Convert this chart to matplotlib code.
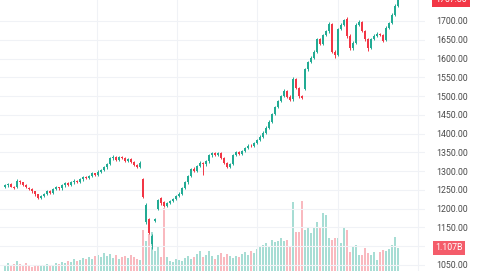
import matplotlib
matplotlib.use("Agg")
import matplotlib.pyplot as plt
import matplotlib.transforms as mtransforms

opens = [1258, 1262, 1266, 1259, 1258, 1275, 1270, 1264, 1255, 1252, 1246, 1238, 1228, 1233, 1240, 1246,
         1243, 1252, 1257, 1254, 1262, 1268, 1264, 1270, 1275, 1272, 1278, 1284, 1281, 1288, 1294, 1291,
         1299, 1304, 1310, 1320, 1334, 1339, 1331, 1337, 1335, 1327, 1333, 1325, 1316, 1312, 1278, 1165,
         1172, 1105, 1168, 1200, 1228, 1218, 1208, 1215, 1220, 1226, 1233, 1240, 1256, 1270, 1287, 1305,
         1300, 1314, 1322, 1318, 1326, 1342, 1348, 1344, 1349, 1335, 1322, 1312, 1320, 1344, 1350, 1347,
         1354, 1362, 1368, 1366, 1374, 1383, 1392, 1402, 1416, 1432, 1452, 1470, 1486, 1500, 1514, 1498,
         1492, 1545, 1522, 1500, 1520, 1572, 1590, 1602, 1618, 1652, 1640, 1662, 1672, 1692, 1618, 1610,
         1678, 1690, 1706, 1660, 1628, 1642, 1690, 1698, 1674, 1652, 1628, 1652, 1660, 1666, 1662, 1650,
         1682, 1694, 1716, 1740]
closes = [1262, 1266, 1259, 1256, 1275, 1270, 1264, 1257, 1252, 1246, 1238, 1229, 1233, 1240, 1246, 1243,
          1252, 1257, 1254, 1262, 1268, 1264, 1270, 1275, 1272, 1278, 1284, 1281, 1288, 1294, 1291, 1299,
          1304, 1310, 1320, 1334, 1339, 1331, 1337, 1335, 1327, 1333, 1325, 1316, 1312, 1323, 1232, 1210,
          1136, 1128, 1172, 1222, 1214, 1208, 1215, 1220, 1226, 1233, 1240, 1256, 1270, 1287, 1305, 1300,
          1314, 1322, 1318, 1326, 1342, 1348, 1344, 1349, 1335, 1322, 1312, 1320, 1344, 1350, 1347, 1354,
          1362, 1368, 1366, 1374, 1383, 1392, 1402, 1416, 1432, 1452, 1470, 1486, 1500, 1514, 1498, 1490,
          1545, 1522, 1500, 1496, 1572, 1590, 1602, 1618, 1652, 1640, 1662, 1672, 1692, 1618, 1610, 1678,
          1690, 1702, 1660, 1628, 1642, 1690, 1698, 1674, 1652, 1628, 1652, 1660, 1666, 1662, 1648, 1682,
          1694, 1716, 1740, 1757.8]
highs = [1265, 1269, 1268, 1261, 1278, 1277, 1272, 1266, 1257, 1254, 1248, 1240, 1236, 1243, 1249, 1249,
         1255, 1260, 1259, 1265, 1271, 1270, 1273, 1278, 1277, 1281, 1287, 1286, 1291, 1297, 1296, 1302,
         1307, 1313, 1323, 1337, 1343, 1341, 1340, 1340, 1337, 1336, 1335, 1327, 1319, 1326, 1281, 1214,
         1176, 1133, 1176, 1226, 1231, 1221, 1218, 1223, 1229, 1236, 1244, 1259, 1273, 1290, 1309, 1310,
         1317, 1326, 1325, 1329, 1345, 1352, 1351, 1352, 1351, 1338, 1324, 1323, 1347, 1354, 1353, 1357,
         1365, 1371, 1371, 1377, 1386, 1395, 1406, 1420, 1436, 1456, 1474, 1490, 1504, 1518, 1517, 1502,
         1550, 1548, 1525, 1504, 1576, 1594, 1606, 1622, 1656, 1655, 1666, 1676, 1697, 1695, 1622, 1682,
         1694, 1706, 1710, 1664, 1646, 1694, 1702, 1701, 1677, 1655, 1656, 1664, 1670, 1669, 1665, 1686,
         1698, 1720, 1745, 1762]
lows = [1255, 1259, 1257, 1253, 1256, 1267, 1261, 1254, 1249, 1243, 1235, 1225, 1225, 1230, 1237, 1240,
        1240, 1249, 1251, 1251, 1259, 1261, 1261, 1267, 1269, 1269, 1275, 1278, 1278, 1285, 1288, 1288,
        1296, 1301, 1307, 1317, 1331, 1328, 1328, 1332, 1324, 1324, 1322, 1313, 1308, 1309, 1229, 1160,
        1132, 1092, 1164, 1197, 1211, 1204, 1205, 1212, 1217, 1223, 1230, 1237, 1253, 1267, 1284, 1297,
        1297, 1311, 1290, 1315, 1323, 1339, 1341, 1341, 1332, 1319, 1308, 1309, 1317, 1341, 1344, 1344,
        1351, 1359, 1363, 1363, 1371, 1380, 1389, 1399, 1413, 1429, 1449, 1467, 1483, 1497, 1495, 1486,
        1488, 1519, 1496, 1492, 1515, 1568, 1587, 1599, 1615, 1636, 1637, 1659, 1669, 1614, 1602, 1606,
        1675, 1687, 1656, 1622, 1624, 1639, 1687, 1671, 1648, 1620, 1625, 1649, 1657, 1659, 1644, 1647,
        1679, 1691, 1713, 1738]
volumes_b = [0.29, 0.38, 0.24, 0.34, 0.48, 0.34, 0.29, 0.38, 0.24, 0.19, 0.29, 0.24, 0.29, 0.24, 0.34, 0.29,
             0.24, 0.38, 0.34, 0.43, 0.38, 0.48, 0.43, 0.58, 0.48, 0.53, 0.62, 0.58, 0.67, 0.58, 0.72, 0.77,
             0.67, 0.86, 0.72, 0.82, 0.62, 0.77, 0.58, 0.67, 0.72, 0.62, 0.77, 0.67, 0.58, 0.53, 1.97, 1.44,
             1.78, 1.87, 0.96, 1.20, 0.67, 3.02, 0.67, 0.48, 0.43, 0.58, 0.53, 0.48, 0.62, 0.72, 0.58, 0.67,
             0.82, 0.96, 0.67, 0.77, 0.96, 0.72, 0.58, 0.77, 0.86, 0.67, 0.82, 0.72, 0.62, 0.72, 0.67, 0.82,
             0.91, 0.77, 0.96, 0.86, 1.06, 1.15, 1.25, 1.34, 1.15, 1.49, 1.39, 1.44, 1.58, 1.44, 1.49, 1.20,
             3.31, 1.87, 1.87, 3.36, 1.97, 2.11, 1.82, 2.11, 2.35, 2.06, 2.78, 2.69, 1.58, 1.49, 1.58, 1.58,
             1.34, 2.06, 1.97, 0.91, 1.15, 1.25, 0.77, 0.77, 1.10, 0.86, 0.77, 0.91, 0.53, 0.91, 1.01, 0.96,
             1.06, 1.25, 1.63, 1.1078]
price_ticks = [1050, 1100, 1150, 1200, 1250, 1300, 1350, 1400, 1450, 1500, 1550, 1600, 1650, 1700]
hidden_tick_labels = [1100]  # covered by the volume label box in the reference
last_price_label = "1757.80"
last_volume_label = "1.107B"

UP = "#22ab94"
DOWN = "#f23645"
UP_VOL = "#a7ddd4"
DOWN_VOL = "#f9b9bf"

W, H = 482, 271
fig = plt.figure(figsize=(W / 100, H / 100), dpi=100)
pos = [0, 0, 425 / W, 1]
axv = fig.add_axes(pos)
ax = fig.add_axes(pos, sharex=axv)
ax.set_zorder(2)
axv.set_zorder(1)
ax.patch.set_visible(False)

n = len(closes)
idx = list(range(n))
up = [c >= o for o, c in zip(opens, closes)]

# volume
axv.bar(idx, volumes_b, width=0.72, color=[UP_VOL if u else DOWN_VOL for u in up], linewidth=0)
axv.set_ylim(0, 13.05)
axv.axis("off")

# candles
for i in idx:
    col = UP if up[i] else DOWN
    ax.vlines(i, lows[i], highs[i], color=col, linewidth=0.7, zorder=3)
    lo = min(opens[i], closes[i])
    hgt = max(abs(closes[i] - opens[i]), 0.8)
    ax.bar(i, hgt, bottom=lo, width=0.62, color=col, linewidth=0, zorder=4)

ax.set_xlim((0 - 5) / 3, (425 - 5) / 3)
ax.set_ylim(1034.0, 1755.9)
ax.set_yticks(price_ticks)
ax.set_yticklabels(["" if t in hidden_tick_labels else f"{t:.2f}" for t in price_ticks])
ax.yaxis.tick_right()
ax.tick_params(axis="y", length=0, pad=8, labelsize=6.3, labelcolor="#4a4a4a")
ax.tick_params(axis="x", length=0, labelbottom=False)
for t in ax.get_yticklabels():
    t.set_fontfamily("Roboto")
ax.set_xticks([(97 - 5) / 3, (177 - 5) / 3, (257 - 5) / 3, (338 - 5) / 3, (418 - 5) / 3])
ax.grid(True, color="#f0f2f6", linewidth=0.8)
for s in ax.spines.values():
    s.set_visible(False)

trans_p = mtransforms.blended_transform_factory(fig.transFigure, ax.transData)
ax.text(451 / W, 1757.8, last_price_label, transform=trans_p, ha="center", va="center",
        fontsize=6.3, family="Roboto", color="white", clip_on=False, zorder=10,
        bbox=dict(boxstyle="square,pad=0.35", fc="#f23645", ec="none"))
trans_v = mtransforms.blended_transform_factory(fig.transFigure, axv.transData)
axv.text(449 / W, 1.1078, last_volume_label, transform=trans_v, ha="center", va="center",
         fontsize=6.3, family="Roboto", color="white", clip_on=False, zorder=10,
         bbox=dict(boxstyle="square,pad=0.3", fc="#f45c6a", ec="none"))

fig.savefig("out.png", dpi=100)
